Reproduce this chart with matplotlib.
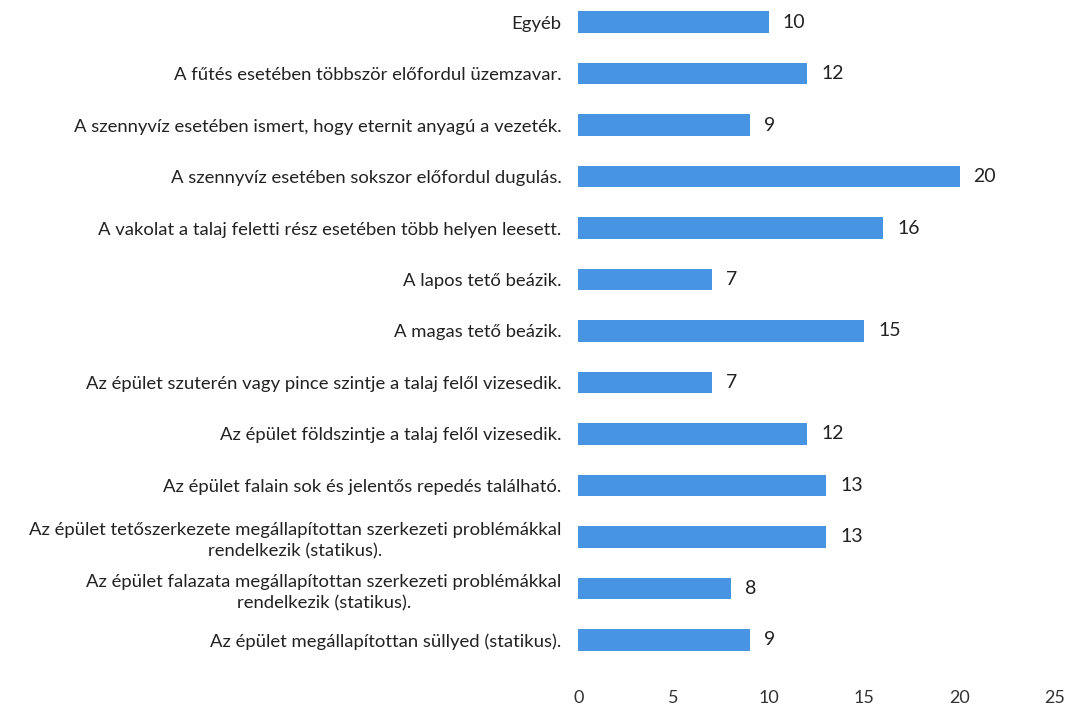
import matplotlib.pyplot as plt
import numpy as np

plt.rcParams['font.family'] = ['Lato', 'DejaVu Sans']

# data, top to bottom as in the picture
labels = [
    'Egyéb',
    'A fűtés esetében többször előfordul üzemzavar.',
    'A szennyvíz esetében ismert, hogy eternit anyagú a vezeték.',
    'A szennyvíz esetében sokszor előfordul dugulás.',
    'A vakolat a talaj feletti rész esetében több helyen leesett.',
    'A lapos tető beázik.',
    'A magas tető beázik.',
    'Az épület szuterén vagy pince szintje a talaj felől vizesedik.',
    'Az épület földszintje a talaj felől vizesedik.',
    'Az épület falain sok és jelentős repedés található.',
    'Az épület tetőszerkezete megállapítottan szerkezeti problémákkal\nrendelkezik (statikus).',
    'Az épület falazata megállapítottan szerkezeti problémákkal\nrendelkezik (statikus).',
    'Az épület megállapítottan süllyed (statikus).',
]
counts = [10, 12, 9, 20, 16, 7, 15, 7, 12, 13, 13, 8, 9]

fig = plt.figure(figsize=(10.71, 7.09), dpi=100)
ax = fig.add_axes([0.54, 0.041, 0.445, 0.959])

y = np.arange(len(labels))
bars = ax.barh(y, counts, height=0.42, color='#4794e3')
ax.bar_label(bars, padding=10, fontsize=14, color='#222222')

ax.set_yticks(y)
ax.set_yticklabels(labels, fontsize=13.3, color='#222222', ha='right',
                   multialignment='center', linespacing=1.4)
ax.set_ylim(12.78, -0.43)
ax.set_xlim(0, 25)
ax.set_xticks([0, 5, 10, 15, 20, 25])
ax.tick_params(axis='x', length=0, pad=7, labelsize=13, labelcolor='#333333')
ax.tick_params(axis='y', length=0, pad=12)

for s in ax.spines.values():
    s.set_visible(False)

plt.savefig('out.png', dpi=100)
